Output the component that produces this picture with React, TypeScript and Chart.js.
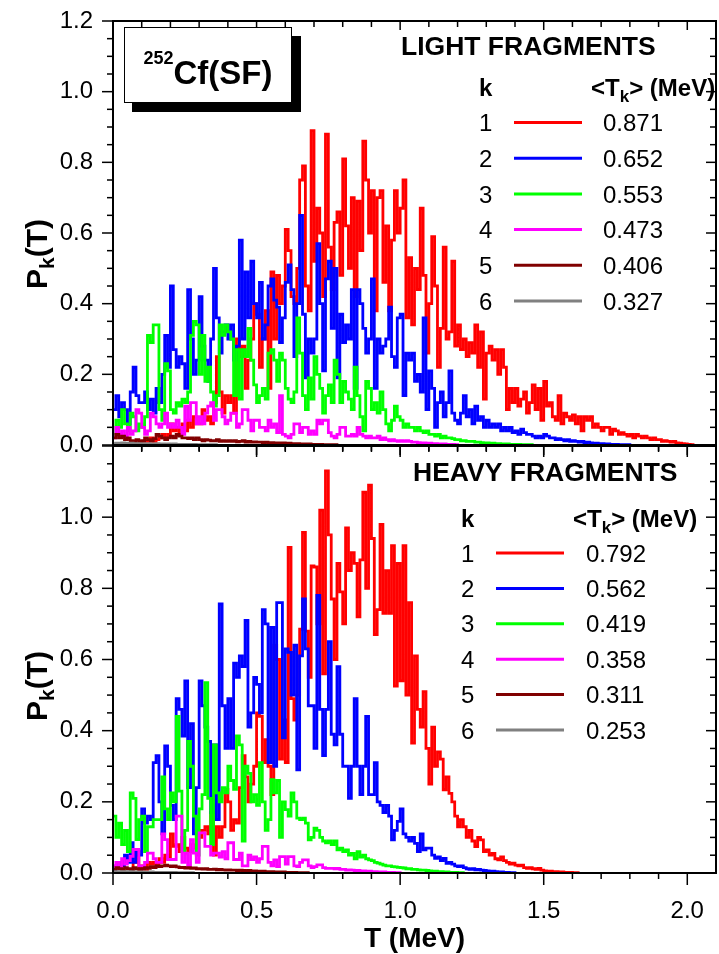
import React, { useEffect, useRef } from "react";
import { Chart, registerables } from "chart.js";

Chart.register(...registerables);

// ---------------- data ----------------
const BIN_WIDTH = 0.01; // MeV, histogram bin width
const X_MAX = 2.1;
const Y_MAX = 1.2;
const xTickStep = 0.5;
const yTickStep = 0.2;

const kLabels = ["1", "2", "3", "4", "5", "6"];
const seriesColors = ["#ff0000", "#0000ff", "#00ff00", "#ff00ff", "#800000", "#808080"];
const lightMeanT = ["0.871", "0.652", "0.553", "0.473", "0.406", "0.327"];
const heavyMeanT = ["0.792", "0.562", "0.419", "0.358", "0.311", "0.253"];

// LIGHT FRAGMENTS, P_k(T) per 0.01 MeV bin starting at T = 0
const lightK1 = [
  0, 0, 0, 0, 0, 0, 0, 0, 0, 0,
  0.005, 0.01, 0.01, 0.02, 0.01, 0.015, 0.02, 0.03, 0.02, 0.03,
  0.06, 0.04, 0.05, 0.03, 0.06, 0.04, 0.07, 0.05, 0.08, 0.06,
  0.06, 0.1, 0.07, 0.08, 0.06, 0.12, 0.25, 0.15, 0.09, 0.14,
  0.12, 0.14, 0.09, 0.3, 0.25, 0.28, 0.16, 0.24, 0.3, 0.4,
  0.37, 0.22, 0.3, 0.38, 0.16, 0.49, 0.3, 0.48, 0.4, 0.45,
  0.61, 0.55, 0.42, 0.4, 0.5, 0.75, 0.79, 0.45, 0.38, 0.89,
  0.52, 0.67, 0.6, 0.42, 0.88, 0.56, 0.44, 0.63, 0.66, 0.48,
  0.81, 0.62, 0.5, 0.7, 0.42, 0.69, 0.55, 0.86, 0.75, 0.6,
  0.72, 0.38, 0.7, 0.72, 0.46, 0.62, 0.38, 0.58, 0.72, 0.6,
  0.67, 0.75, 0.36, 0.53, 0.34, 0.5, 0.44, 0.67, 0.48, 0.26,
  0.4, 0.59, 0.45, 0.22, 0.33, 0.56, 0.3, 0.32, 0.52, 0.28,
  0.34, 0.27, 0.3, 0.25, 0.29, 0.26, 0.34, 0.22, 0.32, 0.13,
  0.26, 0.28, 0.24, 0.27, 0.2, 0.27, 0.22, 0.1, 0.16, 0.12,
  0.16, 0.11, 0.13, 0.15, 0.09, 0.12, 0.17, 0.1, 0.16, 0.07,
  0.18, 0.11, 0.12, 0.08, 0.07, 0.14, 0.06, 0.09, 0.08, 0.07,
  0.085, 0.06, 0.08, 0.04, 0.08, 0.07, 0.08, 0.05, 0.06, 0.05,
  0.04, 0.05, 0.05, 0.03, 0.045, 0.04, 0.03, 0.035, 0.03, 0.025,
  0.03, 0.02, 0.03, 0.025, 0.02, 0.025, 0.02, 0.015, 0.02, 0.015,
  0.015, 0.01, 0.012, 0.01, 0.008, 0.01, 0.006, 0.005, 0.004, 0.003,
  0.002, 0.001,
];
const lightK2 = [
  0.1, 0.14, 0.08, 0.12, 0.1, 0.06, 0.15, 0.22, 0.14, 0.12,
  0.12, 0.15, 0.1, 0.13, 0.09, 0.16, 0.12, 0.2, 0.31, 0.22,
  0.45, 0.27, 0.22, 0.25, 0.23, 0.16, 0.44, 0.3, 0.2, 0.24,
  0.42, 0.28, 0.24, 0.18, 0.3, 0.5, 0.36, 0.26, 0.32, 0.34,
  0.3, 0.34, 0.24, 0.28, 0.58, 0.3, 0.49, 0.36, 0.52, 0.4,
  0.36, 0.46, 0.3, 0.34, 0.45, 0.47, 0.41, 0.39, 0.29, 0.36,
  0.46, 0.51, 0.44, 0.25, 0.4, 0.65, 0.37, 0.19, 0.3, 0.26,
  0.3, 0.57, 0.4, 0.21, 0.47, 0.52, 0.33, 0.5, 0.19, 0.37,
  0.29, 0.34, 0.3, 0.44, 0.16, 0.44, 0.4, 0.33, 0.26, 0.3,
  0.47, 0.16, 0.3, 0.26, 0.28, 0.3, 0.39, 0.25, 0.22, 0.36,
  0.37, 0.14, 0.26, 0.24, 0.26, 0.18, 0.2, 0.15, 0.36, 0.1,
  0.21, 0.16, 0.05, 0.12, 0.15, 0.08, 0.12, 0.21, 0.09, 0.07,
  0.06, 0.09, 0.14, 0.08, 0.1, 0.06, 0.11, 0.07, 0.08, 0.05,
  0.07, 0.05, 0.06, 0.05, 0.06, 0.04, 0.05, 0.04, 0.05, 0.035,
  0.04, 0.03, 0.045, 0.035, 0.03, 0.03, 0.025, 0.02, 0.025, 0.02,
  0.03, 0.025, 0.02, 0.02, 0.015, 0.018, 0.015, 0.012, 0.015, 0.01,
  0.012, 0.01, 0.008, 0.01, 0.007, 0.008, 0.006, 0.005, 0.005, 0.004,
  0.004, 0.003, 0.003, 0.002, 0.002, 0.002, 0.001, 0.001, 0.001, 0.001,
];
const lightK3 = [
  0.03, 0.07, 0.05, 0.1, 0.06, 0.04, 0.09, 0.08, 0.04, 0.06,
  0.05, 0.08, 0.31, 0.29, 0.34, 0.34, 0.1, 0.07, 0.23, 0.21,
  0.1, 0.09, 0.12, 0.11, 0.13, 0.12, 0.15, 0.31, 0.35, 0.34,
  0.2, 0.31, 0.18, 0.22, 0.15, 0.11, 0.14, 0.34, 0.31, 0.34,
  0.32, 0.3, 0.14, 0.27, 0.13, 0.27, 0.25, 0.33, 0.24, 0.17,
  0.12, 0.14, 0.16, 0.13, 0.26, 0.27, 0.24, 0.18, 0.26, 0.24,
  0.16, 0.13, 0.12, 0.15, 0.36, 0.26, 0.14, 0.1, 0.19, 0.13,
  0.25, 0.2, 0.16, 0.09, 0.14, 0.17, 0.12, 0.24, 0.2, 0.12,
  0.18, 0.15, 0.13, 0.1, 0.22, 0.14, 0.08, 0.04, 0.18, 0.16,
  0.1, 0.12, 0.09, 0.15, 0.1, 0.06, 0.04, 0.07, 0.11, 0.08,
  0.07, 0.05, 0.06, 0.05, 0.05, 0.04, 0.05, 0.04, 0.035, 0.04,
  0.03, 0.03, 0.025, 0.03, 0.02, 0.025, 0.02, 0.02, 0.018, 0.015,
  0.015, 0.012, 0.012, 0.01, 0.01, 0.01, 0.008, 0.008, 0.007, 0.006,
  0.006, 0.005, 0.005, 0.004, 0.004, 0.003, 0.003, 0.003, 0.002, 0.002,
  0.002, 0.002, 0.001, 0.001, 0.001, 0.001,
];
const lightK4 = [
  0.02, 0.05, 0.03, 0.04, 0.02, 0.05, 0.03, 0.04, 0.1, 0.09,
  0.05, 0.03, 0.04, 0.09, 0.08, 0.06, 0.05, 0.06, 0.09, 0.05,
  0.06, 0.05, 0.07, 0.05, 0.03, 0.11, 0.07, 0.12, 0.12, 0.06,
  0.08, 0.06, 0.09, 0.11, 0.12, 0.07, 0.1, 0.1, 0.08, 0.06,
  0.07, 0.09, 0.09, 0.05, 0.06, 0.1, 0.1, 0.07, 0.04, 0.07,
  0.07, 0.05, 0.05, 0.04, 0.07, 0.05, 0.06, 0.035, 0.14, 0.03,
  0.025, 0.02, 0.03, 0.06, 0.06, 0.035, 0.05, 0.05, 0.03, 0.04,
  0.03, 0.07, 0.06, 0.07, 0.07, 0.035, 0.025, 0.02, 0.03, 0.05,
  0.05, 0.025, 0.025, 0.03, 0.025, 0.05, 0.03, 0.025, 0.02, 0.025,
  0.02, 0.02, 0.025, 0.015, 0.02, 0.015, 0.012, 0.015, 0.012, 0.01,
  0.012, 0.01, 0.012, 0.01, 0.008, 0.008, 0.007, 0.006, 0.006, 0.005,
  0.005, 0.004, 0.004, 0.003, 0.003, 0.003, 0.002, 0.002, 0.002, 0.001,
];
const lightK5 = [
  0.02, 0.03, 0.02, 0.025, 0.015, 0.02, 0.012, 0.01, 0.015, 0.01,
  0.012, 0.02, 0.015, 0.012, 0.018, 0.03, 0.025, 0.02, 0.015, 0.02,
  0.025, 0.02, 0.03, 0.025, 0.02, 0.02, 0.018, 0.02, 0.015, 0.02,
  0.015, 0.012, 0.015, 0.014, 0.012, 0.012, 0.015, 0.01, 0.012, 0.01,
  0.012, 0.01, 0.012, 0.009, 0.01, 0.012, 0.008, 0.01, 0.008, 0.009,
  0.008, 0.008, 0.007, 0.008, 0.006, 0.007, 0.006, 0.006, 0.005, 0.006,
  0.005, 0.005, 0.004, 0.004, 0.004, 0.003, 0.003, 0.003, 0.003, 0.002,
  0.002, 0.002, 0.002, 0.001, 0.001, 0.001, 0.001, 0.001,
];
const lightK6 = [
  0.004, 0.005, 0.004, 0.006, 0.005, 0.004, 0.005, 0.004, 0.004, 0.003,
  0.004, 0.003, 0.004, 0.003, 0.003, 0.004, 0.003, 0.003, 0.002, 0.003,
  0.002, 0.003, 0.002, 0.002, 0.002, 0.002, 0.002, 0.001, 0.002, 0.001,
  0.001, 0.001, 0.001, 0.001, 0.001, 0.001,
];

// HEAVY FRAGMENTS
const heavyK1 = [
  0, 0, 0, 0, 0, 0, 0, 0.03, 0.065, 0.01,
  0.02, 0.01, 0.03, 0.025, 0.03, 0.02, 0.04, 0.03, 0.05, 0.04,
  0.11, 0.075, 0.08, 0.06, 0.1, 0.07, 0.06, 0.08, 0.07, 0.12,
  0.1, 0.12, 0.13, 0.11, 0.17, 0.05, 0.13, 0.1, 0.13, 0.235,
  0.2, 0.12, 0.15, 0.14, 0.24, 0.33, 0.27, 0.2, 0.25, 0.3,
  0.45, 0.44, 0.31, 0.375, 0.3, 0.22, 0.64, 0.6, 0.32, 0.43,
  0.31, 0.915, 0.49, 0.43, 0.5, 0.685, 0.957, 0.68, 0.55, 0.863,
  0.86, 0.7, 1.02, 0.56, 1.13, 0.95, 0.77, 0.6, 0.87, 0.79,
  0.7, 0.97, 0.85, 0.9, 0.87, 0.72, 0.88, 1.07, 0.8, 1.09,
  0.94, 0.67, 0.74, 0.98, 0.73, 0.85, 0.73, 0.92, 0.525, 0.87,
  0.54, 0.92, 0.5, 0.76, 0.365, 0.61, 0.46, 0.41, 0.51, 0.35,
  0.25, 0.41, 0.3, 0.34, 0.32, 0.234, 0.27, 0.224, 0.2, 0.16,
  0.13, 0.15, 0.13, 0.1, 0.12, 0.09, 0.074, 0.1, 0.093, 0.06,
  0.065, 0.05, 0.055, 0.04, 0.037, 0.045, 0.035, 0.03, 0.025, 0.028,
  0.022, 0.02, 0.022, 0.015, 0.013, 0.015, 0.012, 0.01, 0.013, 0.008,
  0.006, 0.005, 0.005, 0.004, 0.004, 0.003, 0.003, 0.002, 0.002, 0.002,
  0.001, 0.001,
];
const heavyK2 = [
  0.01, 0.02, 0.03, 0.02, 0.05, 0.03, 0.085, 0.03, 0.06, 0.05,
  0.18, 0.14, 0.16, 0.15, 0.31, 0.33, 0.2, 0.11, 0.357, 0.3,
  0.19, 0.15, 0.49, 0.46, 0.385, 0.54, 0.24, 0.42, 0.11, 0.24,
  0.54, 0.47, 0.41, 0.37, 0.17, 0.36, 0.15, 0.756, 0.47, 0.35,
  0.49, 0.35, 0.59, 0.55, 0.61, 0.58, 0.71, 0.41, 0.45, 0.55,
  0.53, 0.45, 0.74, 0.7, 0.31, 0.69, 0.3, 0.76, 0.76, 0.38,
  0.63, 0.62, 0.5, 0.64, 0.29, 0.61, 0.77, 0.63, 0.47, 0.47,
  0.35, 0.78, 0.46, 0.33, 0.46, 0.65, 0.39, 0.36, 0.58, 0.39,
  0.3, 0.3, 0.21, 0.3, 0.49, 0.3, 0.22, 0.3, 0.44, 0.22,
  0.22, 0.31, 0.2, 0.19, 0.17, 0.19, 0.16, 0.093, 0.12, 0.145,
  0.18, 0.11, 0.1, 0.09, 0.1, 0.083, 0.06, 0.11, 0.065, 0.07,
  0.07, 0.05, 0.041, 0.045, 0.035, 0.041, 0.027, 0.03, 0.025, 0.02,
  0.018, 0.02, 0.015, 0.012, 0.01, 0.012, 0.009, 0.01, 0.008, 0.007,
  0.006, 0.005, 0.005, 0.004, 0.003, 0.003, 0.002, 0.002, 0.001, 0.001,
];
const heavyK3 = [
  0.16, 0.1, 0.14, 0.08, 0.12, 0.06, 0.225, 0.21, 0.094, 0.15,
  0.16, 0.06, 0.13, 0.13, 0.15, 0.15, 0.15, 0.27, 0.18, 0.15,
  0.225, 0.2, 0.44, 0.23, 0.06, 0.12, 0.37, 0.3, 0.16, 0.05,
  0.18, 0.22, 0.535, 0.21, 0.08, 0.36, 0.225, 0.2, 0.24, 0.225,
  0.3, 0.26, 0.235, 0.385, 0.36, 0.09, 0.3, 0.28, 0.2, 0.22,
  0.19, 0.31, 0.2, 0.12, 0.15, 0.262, 0.225, 0.26, 0.1, 0.2,
  0.178, 0.16, 0.225, 0.2, 0.154, 0.15, 0.154, 0.14, 0.093, 0.1,
  0.126, 0.12, 0.1, 0.09, 0.085, 0.09, 0.08, 0.09, 0.065, 0.07,
  0.06, 0.065, 0.05, 0.055, 0.04, 0.06, 0.045, 0.05, 0.04, 0.037,
  0.035, 0.03, 0.028, 0.025, 0.022, 0.02, 0.02, 0.018, 0.017, 0.016,
  0.015, 0.014, 0.012, 0.012, 0.01, 0.01, 0.009, 0.008, 0.008, 0.007,
  0.006, 0.005, 0.005, 0.004, 0.004, 0.003, 0.003, 0.002, 0.002, 0.002,
  0.001, 0.001,
];
const heavyK4 = [
  0.02, 0.03, 0.015, 0.04, 0.025, 0.035, 0.047, 0.066, 0.066, 0.02,
  0.02, 0.03, 0.056, 0.056, 0.04, 0.03, 0.03, 0.11, 0.094, 0.038,
  0.038, 0.038, 0.16, 0.16, 0.03, 0.056, 0.02, 0.094, 0.056, 0.03,
  0.113, 0.113, 0.075, 0.075, 0.05, 0.056, 0.056, 0.045, 0.06, 0.04,
  0.085, 0.085, 0.038, 0.038, 0.056, 0.02, 0.02, 0.05, 0.038, 0.045,
  0.03, 0.04, 0.075, 0.075, 0.03, 0.02, 0.037, 0.018, 0.046, 0.046,
  0.025, 0.046, 0.046, 0.02, 0.018, 0.03, 0.037, 0.037, 0.02, 0.015,
  0.018, 0.023, 0.023, 0.015, 0.013, 0.013, 0.013, 0.012, 0.013, 0.01,
  0.01, 0.008, 0.009, 0.008, 0.007, 0.007, 0.006, 0.006, 0.005, 0.005,
  0.004, 0.004, 0.003, 0.003, 0.003, 0.002, 0.002, 0.002, 0.001, 0.001,
];
const heavyK5 = [
  0.01, 0.015, 0.012, 0.01, 0.015, 0.012, 0.01, 0.015, 0.012, 0.01,
  0.012, 0.015, 0.013, 0.018, 0.015, 0.02, 0.018, 0.02, 0.022, 0.02,
  0.018, 0.02, 0.017, 0.015, 0.016, 0.014, 0.015, 0.013, 0.014, 0.012,
  0.012, 0.011, 0.012, 0.01, 0.01, 0.011, 0.009, 0.01, 0.009, 0.008,
  0.009, 0.008, 0.008, 0.007, 0.008, 0.007, 0.006, 0.007, 0.006, 0.006,
  0.005, 0.005, 0.005, 0.004, 0.004, 0.004, 0.003, 0.003, 0.003, 0.003,
  0.002, 0.002, 0.002, 0.002, 0.001, 0.001, 0.001, 0.001,
];
const heavyK6 = [
  0.003, 0.004, 0.004, 0.003, 0.004, 0.003, 0.004, 0.003, 0.003, 0.003,
  0.003, 0.003, 0.002, 0.003, 0.002, 0.002, 0.002, 0.002, 0.002, 0.002,
  0.001, 0.002, 0.001, 0.001, 0.001, 0.001, 0.001, 0.001,
];

const lightSeries = [lightK1, lightK2, lightK3, lightK4, lightK5, lightK6];
const heavySeries = [heavyK1, heavyK2, heavyK3, heavyK4, heavyK5, heavyK6];

// ---------------- layout / drawing ----------------
const FF = '"Liberation Sans", Arial, Helvetica, sans-serif';
const W = 719;
const PLOT_LEFT = 113;
const PLOT_RIGHT = 716;

type PanelLayout = {
  isTop: boolean;
  canvasTop: number;
  canvasHeight: number;
  plotTop: number; // page coords
  plotBottom: number;
  heading: string;
  means: string[];
  series: number[][];
  headX: number; headBase: number;
  kX: number; kBase: number; meanHdrX: number;
  row0: number; rowStep: number;
  lineX0: number; lineX1: number; valX: number;
  yTitleCenter: number;
};

const topPanel: PanelLayout = {
  isTop: true, canvasTop: 0, canvasHeight: 460, plotTop: 21, plotBottom: 445,
  heading: "LIGHT FRAGMENTS", means: lightMeanT, series: lightSeries,
  headX: 401, headBase: 55, kX: 479, kBase: 96, meanHdrX: 591,
  row0: 122.5, rowStep: 35.7, lineX0: 514, lineX1: 582, valX: 603,
  yTitleCenter: 254,
};
const bottomPanel: PanelLayout = {
  isTop: false, canvasTop: 440, canvasHeight: 514, plotTop: 446, plotBottom: 873,
  heading: "HEAVY FRAGMENTS", means: heavyMeanT, series: heavySeries,
  headX: 413, headBase: 481, kX: 461, kBase: 527, meanHdrX: 573,
  row0: 553, rowStep: 35.4, lineX0: 496, lineX1: 564, valX: 586,
  yTitleCenter: 686,
};

function toPoints(values: number[]) {
  const pts = values.map((v, i) => ({ x: +(i * BIN_WIDTH).toFixed(2), y: v }));
  pts.push({ x: +(values.length * BIN_WIDTH).toFixed(2), y: 0 });
  return pts;
}

function line(ctx: CanvasRenderingContext2D, x0: number, y0: number, x1: number, y1: number) {
  ctx.beginPath();
  ctx.moveTo(x0, y0);
  ctx.lineTo(x1, y1);
  ctx.stroke();
}

function makeDecorPlugin(p: PanelLayout) {
  return {
    id: "panelDecor" + (p.isTop ? "Top" : "Bottom"),
    afterDraw(chart: any) {
      const ctx: CanvasRenderingContext2D = chart.ctx;
      const a = chart.chartArea;
      const xs = chart.scales.x;
      const ys = chart.scales.y;
      const oy = p.canvasTop;
      ctx.save();
      ctx.fillStyle = "#000";
      ctx.strokeStyle = "#000";

      // ---- legend ----
      ctx.textAlign = "left";
      ctx.textBaseline = "alphabetic";
      ctx.font = `bold 26.5px ${FF}`;
      ctx.fillText(p.heading, p.headX, p.headBase - oy);
      ctx.font = `bold 24px ${FF}`;
      ctx.fillText("k", p.kX, p.kBase - oy);
      let hx = p.meanHdrX;
      ctx.fillText("<T", hx, p.kBase - oy);
      hx += ctx.measureText("<T").width;
      ctx.font = `bold 17px ${FF}`;
      ctx.fillText("k", hx, p.kBase - oy + 6);
      hx += ctx.measureText("k").width;
      ctx.font = `bold 24px ${FF}`;
      ctx.fillText("> (MeV)", hx, p.kBase - oy);

      for (let i = 0; i < kLabels.length; i++) {
        const yc = p.row0 + i * p.rowStep - oy;
        ctx.font = `24px ${FF}`;
        ctx.fillStyle = "#000";
        ctx.fillText(kLabels[i], p.kX, yc + 8.6);
        ctx.fillText(p.means[i], p.valX, yc + 8.6);
        ctx.strokeStyle = seriesColors[i];
        ctx.lineWidth = 3;
        line(ctx, p.lineX0, yc, p.lineX1, yc);
      }
      ctx.strokeStyle = "#000";

      // ---- ticks ----
      ctx.lineWidth = 1.5;
      const nY = Math.round(Y_MAX / 0.05);
      for (let i = 0; i <= nY; i++) {
        const py = ys.getPixelForValue(i * 0.05);
        const major = i % 4 === 0;
        line(ctx, a.left - (major ? 11 : 6), py, a.left, py);
        line(ctx, a.right - (major ? 10 : 6), py, a.right, py);
      }
      for (let i = 0; i <= 20; i++) {
        const px = xs.getPixelForValue(i * 0.1);
        const major = i % 5 === 0;
        line(ctx, px, a.bottom, px, a.bottom + (major ? 12 : 6));
        line(ctx, px, a.top, px, a.top + (major ? 9 : 6));
      }
      // ---- frame ----
      ctx.lineWidth = 2;
      ctx.strokeRect(a.left, a.top, a.right - a.left, a.bottom - a.top);

      // ---- y title P_k(T) ----
      ctx.save();
      ctx.translate(47, p.yTitleCenter - oy);
      ctx.rotate(-Math.PI / 2);
      ctx.font = `bold 30px ${FF}`;
      const wP = ctx.measureText("P").width;
      const wT = ctx.measureText("(T)").width;
      ctx.font = `bold 21px ${FF}`;
      const wk = ctx.measureText("k").width;
      let sx = -(wP + wk + wT) / 2;
      ctx.textAlign = "left";
      ctx.font = `bold 30px ${FF}`;
      ctx.fillText("P", sx, 0);
      sx += wP;
      ctx.font = `bold 21px ${FF}`;
      ctx.fillText("k", sx, 7);
      sx += wk;
      ctx.font = `bold 30px ${FF}`;
      ctx.fillText("(T)", sx, 0);
      ctx.restore();

      if (p.isTop) {
        // title box with shadow
        ctx.fillStyle = "#000";
        ctx.fillRect(132, 36, 169, 76);
        ctx.fillStyle = "#fff";
        ctx.fillRect(124, 27, 168, 76);
        ctx.lineWidth = 1;
        ctx.strokeStyle = "#000";
        ctx.strokeRect(124.5, 27.5, 167, 75);
        ctx.fillStyle = "#000";
        ctx.font = `bold 18px ${FF}`;
        const wSup = ctx.measureText("252").width;
        ctx.font = `bold 33px ${FF}`;
        const wMain = ctx.measureText("Cf(SF)").width;
        const start = 208 - (wSup + wMain) / 2;
        ctx.font = `bold 18px ${FF}`;
        ctx.fillText("252", start, 64);
        ctx.font = `bold 33px ${FF}`;
        ctx.fillText("Cf(SF)", start + wSup, 84);
      } else {
        ctx.fillStyle = "#000";
        ctx.textAlign = "center";
        ctx.font = `bold 28px ${FF}`;
        ctx.fillText("T (MeV)", (PLOT_LEFT + PLOT_RIGHT) / 2, 947 - oy);
      }
      ctx.restore();
    },
  };
}

function buildConfig(p: PanelLayout): any {
  const datasets = p.series.map((vals, i) => ({
    label: "k=" + kLabels[i],
    data: toPoints(vals),
    borderColor: seriesColors[i],
    backgroundColor: seriesColors[i],
    borderWidth: 2.8,
    pointRadius: 0,
    stepped: "before",
    fill: false,
    borderJoinStyle: "miter",
    order: kLabels.length - i,
  }));
  const plotBottomCanvas = p.plotBottom - p.canvasTop;
  return {
    type: "line",
    data: { datasets },
    options: {
      animation: false,
      responsive: false,
      maintainAspectRatio: false,
      devicePixelRatio: 1,
      events: [],
      layout: {
        autoPadding: false,
        padding: { left: 0, right: W - PLOT_RIGHT, top: p.plotTop - p.canvasTop, bottom: 0 },
      },
      plugins: {
        legend: { display: false },
        tooltip: { enabled: false },
        title: { display: false },
      },
      scales: {
        x: {
          type: "linear",
          min: 0,
          max: X_MAX,
          grid: { display: false, drawTicks: false },
          border: { display: false },
          ticks: {
            display: !p.isTop,
            stepSize: xTickStep,
            includeBounds: false,
            autoSkip: false,
            maxRotation: 0,
            minRotation: 0,
            padding: 24,
            color: "#000",
            font: { family: FF, size: 24 },
            callback: (v: any) => Number(v).toFixed(1),
          },
          afterFit: (s: any) => {
            s.height = p.canvasHeight - plotBottomCanvas;
            s.paddingLeft = 0;
            s.paddingRight = 0;
            s.paddingTop = 0;
            s.paddingBottom = 0;
          },
        },
        y: {
          type: "linear",
          min: 0,
          max: Y_MAX,
          grid: { display: false, drawTicks: false },
          border: { display: false },
          ticks: {
            stepSize: yTickStep,
            autoSkip: false,
            padding: 20,
            color: "#000",
            font: { family: FF, size: 24 },
            callback: (v: any) => (!p.isTop && Number(v) > Y_MAX - 0.01 ? "" : Number(v).toFixed(1)),
          },
          afterFit: (s: any) => {
            s.width = PLOT_LEFT;
            s.paddingLeft = 0;
            s.paddingRight = 0;
            s.paddingTop = 0;
            s.paddingBottom = 0;
          },
        },
      },
    },
    plugins: [makeDecorPlugin(p)],
  };
}

export default function App() {
  const topRef = useRef<HTMLCanvasElement>(null);
  const botRef = useRef<HTMLCanvasElement>(null);
  useEffect(() => {
    const c2 = new Chart(botRef.current as HTMLCanvasElement, buildConfig(bottomPanel));
    const c1 = new Chart(topRef.current as HTMLCanvasElement, buildConfig(topPanel));
    return () => {
      c1.destroy();
      c2.destroy();
    };
  }, []);
  return (
    <div style={{ position: "absolute", left: 0, top: 0, width: W, height: 954, background: "#fff", overflow: "hidden" }}>
      <canvas
        ref={botRef}
        width={W}
        height={bottomPanel.canvasHeight}
        style={{ position: "absolute", left: 0, top: bottomPanel.canvasTop }}
      />
      <canvas
        ref={topRef}
        width={W}
        height={topPanel.canvasHeight}
        style={{ position: "absolute", left: 0, top: topPanel.canvasTop }}
      />
    </div>
  );
}
